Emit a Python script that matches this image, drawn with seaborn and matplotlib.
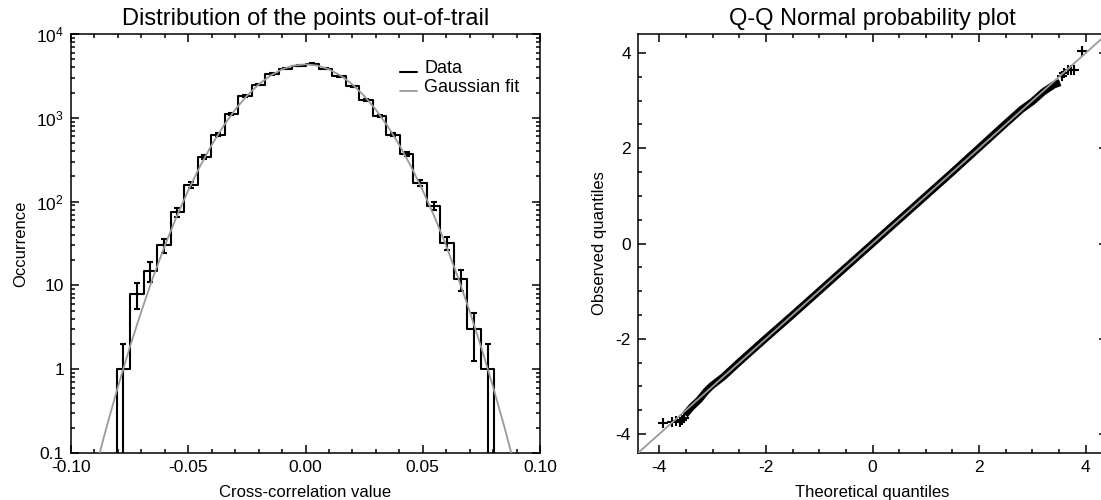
import numpy as np
import pandas as pd
import matplotlib
matplotlib.use("Agg")
import matplotlib.pyplot as plt
import seaborn as sns
from matplotlib.ticker import MultipleLocator, LogLocator, FuncFormatter, FormatStrFormatter, NullFormatter
from matplotlib.lines import Line2D
from matplotlib.legend_handler import HandlerLine2D

# ---------------- data ----------------
# histogram of cross-correlation values (28 bins between the two limits)
bin_lo = -0.0805
bin_hi = 0.0805
n_bins = 28
counts = [1, 8, 15, 30, 75, 158, 340, 628, 1110, 1804, 2483, 3333, 3855, 4188,
          4420, 3855, 3126, 2377, 1644, 1042, 628, 372, 166, 89, 32, 12, 3, 1]

# Gaussian fit curve
fit_x = [-0.090, -0.085, -0.080, -0.075, -0.070, -0.065, -0.060, -0.055, -0.050,
         -0.045, -0.040, -0.035, -0.030, -0.025, -0.020, -0.015, -0.010, -0.005,
         0.000, 0.005, 0.010, 0.015, 0.020, 0.025, 0.030, 0.035, 0.040, 0.045,
         0.050, 0.055, 0.060, 0.065, 0.070, 0.075, 0.080, 0.085, 0.090]
fit_y = [0.058, 0.196, 0.615, 1.80, 4.91, 12.5, 29.7, 65.9, 136,
         263, 474, 797, 1251, 1831, 2500, 3186, 3788, 4202,
         4350, 4202, 3788, 3186, 2500, 1831, 1251, 797, 474, 263,
         136, 65.9, 29.7, 12.5, 4.91, 1.80, 0.615, 0.196, 0.058]

# Q-Q plot: dense body of points (drawn as a thick band)
band_theo = [-3.52, -3.40, -3.25, -3.12, -3.02, -2.80, -2.50, -2.00, -1.50, -1.00,
             -0.50, 0.00, 0.50, 1.00, 1.50, 2.00, 2.50, 2.80, 3.00, 3.20, 3.40, 3.52]
band_obs = [-3.60, -3.44, -3.28, -3.10, -2.99, -2.80, -2.49, -1.99, -1.50, -1.00,
            -0.50, 0.00, 0.50, 1.00, 1.50, 2.01, 2.52, 2.82, 2.98, 3.18, 3.33, 3.38]
# isolated tail points
tail_theo = [-3.94, -3.77, -3.68, -3.62, -3.57, -3.54, 3.56, 3.60, 3.66, 3.73, 3.79, 3.94]
tail_obs = [-3.77, -3.75, -3.73, -3.74, -3.71, -3.67, 3.52, 3.59, 3.64, 3.64, 3.64, 4.05]
# reference line
ref_q = [-4.6, 4.6]

# ---------------- style ----------------
sns.set_style("ticks")
plt.rcParams["font.family"] = ["Liberation Sans", "DejaVu Sans"]
plt.rcParams["mathtext.fontset"] = "custom"
plt.rcParams["mathtext.rm"] = "Liberation Sans"
plt.rcParams["mathtext.it"] = "Liberation Sans"
plt.rcParams["axes.unicode_minus"] = False
plt.rcParams["axes.edgecolor"] = "black"
plt.rcParams["axes.labelcolor"] = "black"
plt.rcParams["text.color"] = "black"
plt.rcParams["axes.linewidth"] = 1.1
plt.rcParams["xtick.color"] = "black"
plt.rcParams["ytick.color"] = "black"

GRAY = "#9a9a9a"
TICK_FS = 12.5
LAB_FS = 12
LEG_FS = 13
TITLE_FS = 17

fig = plt.figure(figsize=(11.01, 5.0), dpi=100)
ax1 = fig.add_axes([71 / 1101, 47 / 500, 469 / 1101, 419 / 500])
ax2 = fig.add_axes([638 / 1101, 47 / 500, 469 / 1101, 419 / 500])

# ---------------- left: histogram ----------------
edges = np.linspace(bin_lo, bin_hi, n_bins + 1)
centers = 0.5 * (edges[:-1] + edges[1:])
cnt = np.array(counts, dtype=float)
hist_df = pd.DataFrame({"x": centers, "w": cnt})

sns.histplot(data=hist_df, x="x", weights="w", bins=list(edges), element="step",
             fill=False, color="black", linewidth=1.5, ax=ax1)
ax1.set_yscale("log")
# outer edges of the step histogram down to zero
ax1.vlines([edges[0], edges[-1]], 1e-3, [cnt[0], cnt[-1]], color="black", linewidth=1.5)

err = np.sqrt(cnt)
low = np.where(cnt - err > 0, err, cnt - 1e-3)
ax1.errorbar(centers, cnt, yerr=[low, err], fmt="none", ecolor="black",
             elinewidth=1.5, capsize=2.2, capthick=1.5, zorder=4)

sns.lineplot(x=fit_x, y=fit_y, color=GRAY, linewidth=1.3, ax=ax1, zorder=5,
             sort=False, estimator=None)

ax1.set_xlim(-0.10, 0.10)
ax1.set_ylim(0.1, 1e4)
ax1.xaxis.set_major_locator(MultipleLocator(0.05))
ax1.xaxis.set_minor_locator(MultipleLocator(0.01))
ax1.xaxis.set_major_formatter(FormatStrFormatter("%.2f"))
ax1.yaxis.set_major_locator(LogLocator(base=10, numticks=10))
ax1.yaxis.set_minor_locator(LogLocator(base=10, subs=np.arange(2, 10), numticks=20))
ax1.yaxis.set_minor_formatter(NullFormatter())


def log_fmt(v, pos):
    if np.isclose(v, 0.1):
        return "0.1"
    if np.isclose(v, 1):
        return "1"
    if np.isclose(v, 10):
        return "10"
    return r"$10^{%d}$" % int(round(np.log10(v)))


ax1.yaxis.set_major_formatter(FuncFormatter(log_fmt))
ax1.set_xlabel("Cross-correlation value", fontsize=LAB_FS, labelpad=7)
ax1.set_ylabel("Occurrence", fontsize=LAB_FS, labelpad=6)
ax1.set_title("Distribution of the points out-of-trail", fontsize=TITLE_FS, pad=6.5)


class LowLine(HandlerLine2D):
    """Legend line sitting near the text baseline, like an underscore."""
    def create_artists(self, legend, orig_handle, xdescent, ydescent,
                       width, height, fontsize, trans):
        arts = super().create_artists(legend, orig_handle, xdescent, ydescent,
                                      width, height, fontsize, trans)
        for a in arts:
            if isinstance(a, Line2D):
                a.set_ydata(np.asarray(a.get_ydata()) - 0.38 * height)
        return arts


handles = [Line2D([], [], color="black", linewidth=1.5),
           Line2D([], [], color=GRAY, linewidth=1.3)]
ax1.legend(handles, ["Data", "Gaussian fit"], loc="upper left",
           bbox_to_anchor=(0.7015, 0.937), frameon=False, fontsize=LEG_FS,
           handlelength=0.95, handletextpad=0.4, labelspacing=0.1,
           borderpad=0, borderaxespad=0,
           handler_map={Line2D: LowLine()})

# ---------------- right: Q-Q plot ----------------
sns.lineplot(x=band_theo, y=band_obs, color="black", linewidth=5.2, ax=ax2,
             sort=False, estimator=None, solid_capstyle="butt")
sns.scatterplot(x=tail_theo, y=tail_obs, marker="+", s=55, color="black",
                linewidth=1.5, ax=ax2, zorder=3)
sns.lineplot(x=ref_q, y=ref_q, color=GRAY, linewidth=1.3, ax=ax2, zorder=5,
             sort=False, estimator=None)

ax2.set_xlim(-4.4, 4.4)
ax2.set_ylim(-4.4, 4.4)
for axis in (ax2.xaxis, ax2.yaxis):
    axis.set_major_locator(MultipleLocator(2))
    axis.set_minor_locator(MultipleLocator(0.5))
    axis.set_major_formatter(FormatStrFormatter("%d"))
ax2.set_xlabel("Theoretical quantiles", fontsize=LAB_FS, labelpad=7)
ax2.set_ylabel("Observed quantiles", fontsize=LAB_FS, labelpad=6)
ax2.set_title("Q-Q Normal probability plot", fontsize=TITLE_FS, pad=6.5)

for ax in (ax1, ax2):
    ax.tick_params(which="both", direction="in", top=True, right=True,
                   labelsize=TICK_FS, width=1.1, pad=5)
    ax.tick_params(which="major", length=5.5)
    ax.tick_params(which="minor", length=3)
    for s in ax.spines.values():
        s.set_visible(True)
        s.set_linewidth(1.1)

fig.savefig("out.png", dpi=100)
